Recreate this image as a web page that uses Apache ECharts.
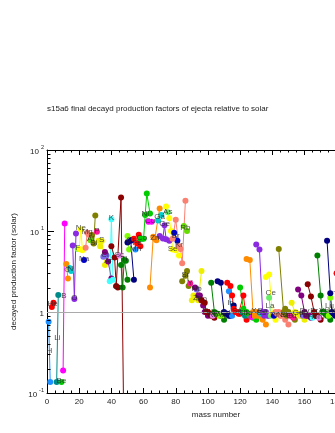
<!DOCTYPE html>
<html>
<head>
<meta charset="utf-8">
<script src="https://cdn.jsdelivr.net/npm/echarts@6/dist/echarts.min.js"></script>
<style>
  html, body { margin: 0; padding: 0; background: #fff; overflow: hidden; }
  #chart { width: 400px; height: 433px; }
</style>
</head>
<body>
<div id="chart"></div>
<script>
// element symbols, Z = index + 1
const symbols = ['H', 'He', 'Li', 'Be', 'B', 'C', 'N', 'O', 'F', 'Ne', 'Na', 'Mg', 'Al', 'Si', 'P', 'S', 'Cl', 'Ar', 'K', 'Ca',
  'Sc', 'Ti', 'V', 'Cr', 'Mn', 'Fe', 'Co', 'Ni', 'Cu', 'Zn', 'Ga', 'Ge', 'As', 'Se', 'Br', 'Kr', 'Rb', 'Sr', 'Y', 'Zr',
  'Nb', 'Mo', 'Tc', 'Ru', 'Rh', 'Pd', 'Ag', 'Cd', 'In', 'Sn', 'Sb', 'Te', 'I', 'Xe', 'Cs', 'Ba', 'La', 'Ce', 'Pr', 'Nd',
  'Pm', 'Sm', 'Eu', 'Gd', 'Tb', 'Dy', 'Ho', 'Er', 'Tm', 'Yb', 'Lu', 'Hf', 'Ta', 'W']

// stable isotope mass numbers of each element
const massNumbers = [
  [1, 2], [3, 4], [6, 7], [9], [10, 11], [12, 13], [14, 15], [16, 17, 18], [19], [20, 21, 22],
  [23], [24, 25, 26], [27], [28, 29, 30], [31], [32, 33, 34, 36], [35, 37], [36, 38, 40], [39, 40, 41], [40, 42, 43, 44, 46, 48],
  [45], [46, 47, 48, 49, 50], [50, 51], [50, 52, 53, 54], [55], [54, 56, 57, 58], [59], [58, 60, 61, 62, 64], [63, 65], [64, 66, 67, 68, 70],
  [69, 71], [70, 72, 73, 74, 76], [75], [74, 76, 77, 78, 80, 82], [79, 81], [78, 80, 82, 83, 84, 86], [85, 87], [84, 86, 87, 88], [89], [90, 91, 92, 94, 96],
  [93], [92, 94, 95, 96, 97, 98, 100], [], [96, 98, 99, 100, 101, 102, 104], [103], [102, 104, 105, 106, 108, 110], [107, 109], [106, 108, 110, 111, 112, 113, 114, 116], [113, 115], [112, 114, 115, 116, 117, 118, 119, 120, 122, 124],
  [121, 123], [120, 122, 123, 124, 125, 126, 128, 130], [127], [124, 126, 128, 129, 130, 131, 132, 134, 136], [133], [130, 132, 134, 135, 136, 137, 138], [138, 139], [136, 138, 140, 142], [141], [142, 143, 144, 145, 146, 148, 150],
  [], [144, 147, 148, 149, 150, 152, 154], [151, 153], [152, 154, 155, 156, 157, 158, 160], [159], [156, 158, 160, 161, 162, 163, 164], [165], [162, 164, 166, 167, 168, 170], [169], [168, 170, 171, 172, 173, 174, 176],
  [175, 176], [174, 176, 177, 178, 179, 180], [180, 181], [180, 182, 183, 184, 186]
]

// decayed production factors (relative to solar)
const prodFactors = [
  [0.76, 0.137], [1.15, 1.3], [0.137, 1.62], [0.137], [0.19, 12.4], [3.9, 2.6], [3.5, 3.2], [6.6, 1.45, 9.3], [6.0], [6.0, 10.5, 5.8],
  [4.4], [6.2, 9.5, 9.0], [7.7], [8.9, 7.0, 15.5], [9.8], [7.6, 6.5, 7.5, 3.8], [4.8, 5.0], [5.5, 4.2, 2.6], [2.4, 14, 2.5], [6.5, 4.7, 2.1, 2.0, 26, 0.013],
  [5.0], [3.8, 2.0, 4.4, 4.3, 2.5], [8.7, 5.9], [7.2, 7.6, 7.8, 2.5], [5.9], [8.0, 7.0, 9.0, 6.5], [8.0], [8.0, 8.0, 15.8, 29, 16.5], [13, 13], [2.0, 8.5, 8.0, 7.7, 19],
  [13.5, 15.8], [8.7, 8.1, 11.8, 7.9, 7.6], [17], [20, 14.4, 10, 5.9, 5.8, 5.0], [9.5, 7.6], [8, 13.8, 6.5, 6, 4.0, 23.6], [11.5, 10], [2.4, 2.8, 3.2, 2.1], [2.25], [1.4, 1.6, 1.5, 1.4, 3.2],
  [1.9], [2.0, 1.6, 1.6, 1.4, 1.2, 1.0, 0.9], [], [1.4, 1.3, 1.0, 1.0, 0.95, 0.9, 0.85], [0.9], [2.3, 1.0, 0.95, 0.95, 0.9, 0.8], [0.9, 0.9], [2.4, 2.3, 1.0, 0.95, 0.95, 0.9, 0.9, 1.2], [1.8, 0.9], [2.3, 2.1, 1.6, 1.1, 1.0, 1.0, 0.95, 0.95, 1.6, 0.8],
  [1.0, 0.9], [2.0, 1.1, 1.0, 1.0, 0.95, 0.9, 0.85, 0.8], [0.87], [4.5, 4.4, 1.0, 0.9, 1.0, 0.9, 0.9, 0.8, 0.7], [0.95], [6.8, 5.9, 1.0, 0.9, 1.0, 0.9, 0.9], [1.5, 0.9], [2.7, 2.9, 0.95, 0.8], [0.9], [1.0, 0.95, 1.0, 0.9, 0.9, 0.8, 0.7],
  [], [6.0, 1.0, 1.1, 0.9, 1.0, 0.9, 0.8], [0.9, 0.85], [1.3, 1.0, 0.95, 0.95, 0.9, 0.9, 0.8], [0.9], [1.9, 1.6, 1.0, 0.9, 0.9, 0.9, 0.85], [0.85], [2.2, 1.55, 1.0, 0.9, 0.9, 0.8], [0.85], [5.0, 1.6, 1.0, 1.0, 0.95, 0.9, 0.8],
  [0.9, 1.5], [7.6, 1.7, 1.0, 0.95, 0.9, 0.9], [3.0, 0.9], [3.0, 1.0, 0.9, 0.9, 0.8]
]

// colours cycle with Z
const palette = ['#1e90ff', '#ff0000', '#008b8b', '#00cd00', '#ff00ff', '#ff8c00', '#00ced1', '#8a2be2',
  '#66ee66', '#ffff00', '#0000cd', '#fa8072', '#66dd00', '#808000', '#ff1493', '#eeee00',
  '#7b68ee', '#800080', '#40ffff', '#8b0000', '#ee82ee', '#008000', '#7fff00', '#000080']

const yMajorTicks = [0.1, 1, 10, 100]
const yMinorTicks = [0.2, 0.3, 0.4, 0.5, 0.6, 0.7, 0.8, 0.9, 2, 3, 4, 5, 6, 7, 8, 9, 20, 30, 40, 50, 60, 70, 80, 90]

const font = 'Liberation Sans, Arial, sans-serif'
const chart = echarts.init(document.getElementById('chart'))

// the element name goes at the middle of its mass range, on its own line
function labelPoint (masses, pf) {
  const mid = (masses[0] + masses[masses.length - 1]) / 2
  if (masses.length === 1) return [mid, pf[0]]
  for (let k = 0; k < masses.length - 1; k++) {
    if (mid >= masses[k] && mid <= masses[k + 1]) {
      const t = (mid - masses[k]) / (masses[k + 1] - masses[k])
      const lg = Math.log10(pf[k]) * (1 - t) + Math.log10(pf[k + 1]) * t
      return [mid, Math.pow(10, lg)]
    }
  }
  return [mid, pf[0]]
}

const series = []
const labels = []
symbols.forEach((sym, i) => {
  const masses = massNumbers[i]
  const pf = prodFactors[i]
  if (!masses.length) return
  const color = palette[i % palette.length]
  series.push({
    type: 'line',
    name: sym,
    data: masses.map((a, k) => [a, pf[k]]),
    symbol: 'circle',
    symbolSize: 6,
    showAllSymbol: true,
    clip: true,
    itemStyle: { color: color },
    lineStyle: { color: color, width: 1 },
    emphasis: { disabled: true },
    markLine: i === 0 ? {
      silent: true,
      symbol: 'none',
      label: { show: false },
      lineStyle: { color: '#aaaaaa', type: 'solid', width: 1 },
      data: [{ yAxis: 1 }]
    } : undefined,
    z: 3
  })
  labels.push({ name: sym, value: labelPoint(masses, pf) })
})

series.push({
  type: 'scatter',
  data: labels,
  symbolSize: 0,
  silent: true,
  label: {
    show: true,
    position: 'inside',
    offset: [0, -1],
    formatter: '{b}',
    fontFamily: font,
    fontSize: 8,
    color: '#222'
  },
  z: 10
})

// minor ticks of the log axis (2..9 in each decade)
series.push({
  type: 'custom',
  silent: true,
  clip: false,
  data: yMinorTicks.map(v => [0, v]),
  renderItem (params, api) {
    const p = api.coord([0, api.value(1)])
    const y = Math.round(p[1]) + 0.5
    return {
      type: 'line',
      shape: { x1: p[0], y1: y, x2: p[0] + 3.5, y2: y },
      style: { stroke: '#000', lineWidth: 1 }
    }
  },
  z: 5
})

const xCommon = {
  type: 'value',
  min: 0,
  max: 210,
  interval: 20,
  axisLine: { show: true, onZero: false, lineStyle: { color: '#000', width: 1 } },
  axisTick: { show: true, inside: true, length: 5, lineStyle: { color: '#000' } },
  minorTick: { show: true, splitNumber: 4, length: 2.5, lineStyle: { color: '#000' } },
  splitLine: { show: false }
}

chart.setOption({
  animation: false,
  backgroundColor: '#fff',
  title: {
    text: 's15a6 final decayd production factors of ejecta relative to solar',
    left: 42,
    top: 100,
    textStyle: { fontFamily: font, fontSize: 8, fontWeight: 'normal', color: '#222' }
  },
  grid: { left: 47, top: 150, width: 338, height: 243, containLabel: false },
  xAxis: [
    Object.assign({}, xCommon, {
      position: 'bottom',
      name: 'mass number',
      nameLocation: 'middle',
      nameGap: 15,
      nameTextStyle: { fontFamily: font, fontSize: 8, color: '#222' },
      axisLabel: { show: true, margin: 5, showMaxLabel: false, fontFamily: font, fontSize: 8, color: '#222' }
    }),
    Object.assign({}, xCommon, {
      position: 'top',
      axisLabel: { show: false }
    })
  ],
  yAxis: {
    type: 'log',
    logBase: 10,
    min: yMajorTicks[0],
    max: yMajorTicks[yMajorTicks.length - 1],
    name: 'decayed production factor (solar)',
    nameLocation: 'middle',
    nameGap: 18,
    nameTextStyle: { fontFamily: font, fontSize: 8, color: '#222' },
    axisLine: { show: true, onZero: false, lineStyle: { color: '#000', width: 1 } },
    axisTick: { show: true, inside: true, length: 7, lineStyle: { color: '#000' } },
    splitLine: { show: false },
    axisLabel: {
      margin: 3,
      fontFamily: font,
      formatter (v) {
        const e = Math.round(Math.log10(v))
        return e === 0 ? '{b|1}' : '{b|10}{s|' + e + '}'
      },
      rich: {
        b: { fontFamily: font, fontSize: 8, color: '#222', lineHeight: 12, verticalAlign: 'bottom' },
        s: { fontFamily: font, fontSize: 5.5, color: '#222', lineHeight: 12, verticalAlign: 'top', padding: [0, 0, 0, 2] }
      }
    }
  },
  series: series
})
</script>
</body>
</html>
